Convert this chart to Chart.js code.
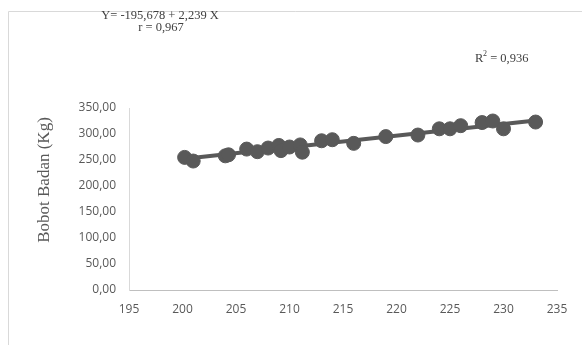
<!DOCTYPE html>
<html>
<head>
<meta charset="utf-8">
<script src="https://cdn.jsdelivr.net/npm/chart.js@4"></script>
<style>
  body { margin: 0; background: #fff; }
</style>
</head>
<body>
<canvas id="grafico" width="582" height="345"></canvas>
<script>
// Dados (Panjang Badan x Bobot Badan)
const panjang = [200.2, 201, 204, 204.3, 206, 207, 208, 209, 209.2, 210, 211, 211.2, 213, 214, 216, 219, 222, 224, 225, 226, 228, 229, 230, 233];
const bobot = [255, 248, 258, 260, 271, 266, 273, 278, 268, 275, 279, 265, 287, 289, 282, 295, 298, 310, 310, 316, 322, 325, 310, 323];
// linha de tendência (extremos)
const trendX = [200, 233];
const trendY = [252, 326];
const eqText = ["Y= -195,678 + 2,239 X", "r = 0,967"];
const r2Text = "0,936";
const tituloY = "Bobot Badan (Kg)";

const cinza = "#595959";

const pontos = panjang.map((x, i) => ({ x: x, y: bobot[i] }));
const tendencia = trendX.map((x, i) => ({ x: x, y: trendY[i] }));

// textos extras e moldura
const extras = {
  id: "extras",
  afterDraw(chart) {
    const c = chart.ctx;
    c.save();
    c.strokeStyle = "#d9d9d9";
    c.lineWidth = 1;
    c.beginPath();
    c.moveTo(8.5, 345);
    c.lineTo(8.5, 11.5);
    c.lineTo(582, 11.5);
    c.stroke();

    c.fillStyle = "#404040";
    c.font = "12.5px 'Liberation Serif'";
    c.textAlign = "center";
    c.textBaseline = "middle";
    c.fillText(eqText[0], 160, 16);
    c.fillText(eqText[1], 161, 28);

    c.textAlign = "left";
    c.fillText("R", 475, 59);
    c.font = "8px 'Liberation Serif'";
    c.fillText("2", 483, 54);
    c.font = "12.5px 'Liberation Serif'";
    c.fillText(" = " + r2Text, 487, 59);

    c.fillStyle = cinza;
    c.font = "17px 'Liberation Serif'";
    c.translate(45, 180);
    c.rotate(-Math.PI / 2);
    c.textAlign = "center";
    c.fillText(tituloY, 0, 0);
    c.restore();
  }
};

const ctx = document.getElementById("grafico");

const chart = new Chart(ctx, {
  type: "scatter",
  data: {
    datasets: [{
        label: "Tendência",
        data: tendencia,
        showLine: true,
        borderColor: cinza,
        borderWidth: 4,
        pointRadius: 0,
        order: 2
      },{
        label: "Dados",
        data: pontos,
        backgroundColor: cinza,
        borderColor: cinza,
        pointRadius: 7,
        pointHoverRadius: 7,
        order: 1
      }]
  },
  options: {
    responsive: false,
    animation: false,
    devicePixelRatio: 1,
    layout: { padding: { left: 10, right: 25, top: 108, bottom: 0 } },
    plugins: { legend: { display: false }, tooltip: { enabled: false } },
    scales: {
      x: {
        min: 195,
        max: 235,
        ticks: { stepSize: 5, color: cinza, padding: 12, font: { family: "Open Sans", size: 12 }, maxRotation: 0 },
        grid: { display: false, drawTicks: false },
        border: { color: "#bfbfbf" },
        afterFit: (s) => { s.height = 55; }
      },
      y: {
        min: 0,
        max: 350,
        ticks: {
          stepSize: 50,
          color: cinza,
          padding: 13,
          font: { family: "Open Sans", size: 12 },
          callback: (v) => v.toFixed(2).replace(".", ",")
        },
        grid: { display: false, drawTicks: false },
        border: { color: "#d9d9d9" },
        afterFit: (s) => { s.width = 119; }
      }
    }
  },
  plugins: [extras]
});
</script>
</body>
</html>
